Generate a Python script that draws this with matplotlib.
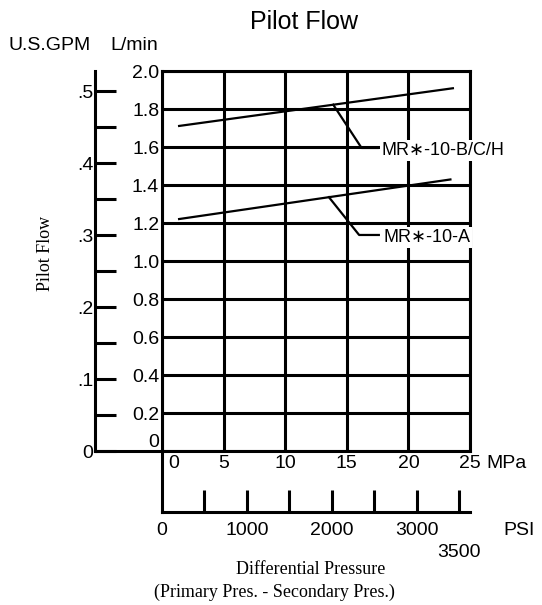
# Pilot Flow chart: flow vs differential pressure, with L/min + GPM and MPa + PSI scales
import numpy as np
import matplotlib.pyplot as plt

plt.rcParams['font.family'] = ['Liberation Sans', 'DejaVu Sans']

W, H = 542, 605
L_PER_GAL = 3.785
PSI_PER_MPA = 145.038

# axis scales
mpa_ticks = [0, 5, 10, 15, 20, 25]
mpa_labels = ['0', '5', '10', '15', '20', '25']
lpm_ticks = [0, 0.2, 0.4, 0.6, 0.8, 1.0, 1.2, 1.4, 1.6, 1.8, 2.0]
lpm_labels = ['0', '0.2', '0.4', '0.6', '0.8', '1.0', '1.2', '1.4', '1.6', '1.8', '2.0']
gpm_ticks = [0, 0.05, 0.1, 0.15, 0.2, 0.25, 0.3, 0.35, 0.4, 0.45, 0.5]
gpm_labels = ['0', '', '.1', '', '.2', '', '.3', '', '.4', '', '.5']
psi_ticks = [500, 1000, 1500, 2000, 2500, 3000, 3500]
psi_label_vals = [0, 1000, 2000, 3000, 3500]
psi_labels = ['0', '1000', '2000', '3000', '3500']

# series (MPa, L/min)
bch_name = 'MR\u2217-10-B/C/H'
bch_mpa = [1.3, 23.7]
bch_flow = [1.71, 1.91]
a_name = 'MR\u2217-10-A'
a_mpa = [1.3, 23.5]
a_flow = [1.22, 1.43]


def fx(px):
    return px / W


def fy(py):
    return 1 - py / H


fig = plt.figure(figsize=(W / 100, H / 100), dpi=100)

# main grid
ax = fig.add_axes([fx(162), fy(451), fx(470 - 162), (451 - 71) / H])
ax.set_xlim(0, 25)
ax.set_ylim(0, 2.0)
ax.set_xticks(mpa_ticks)
ax.set_xticklabels([])
ax.set_yticks(lpm_ticks)
ax.set_yticklabels(lpm_labels, fontsize=14)
ax.tick_params(length=0, pad=2)
ax.get_yticklabels()[0].set_va('bottom')
ax.grid(True, color='black', linewidth=2.2)
for s in ax.spines.values():
    s.set_linewidth(2.2)
ax.set_axisbelow(True)

ax.plot(bch_mpa, bch_flow, color='black', linewidth=1.6, solid_capstyle='butt')
ax.plot(a_mpa, a_flow, color='black', linewidth=1.6, solid_capstyle='butt')

# leader lines + labels
for xs, ys, x0, ex, ey, tx, name in [
    (bch_mpa, bch_flow, 13.9, 16.2, 1.595, 17.5, bch_name),
    (a_mpa, a_flow, 13.55, 16.0, 1.137, 17.6, a_name),
]:
    y0 = np.interp(x0, xs, ys)
    ax.plot([x0, ex, tx], [y0, ey, ey], color='black', linewidth=1.6)
    ax.text(tx + 0.35, ey - 0.015, name, fontsize=13, ha='left', va='center',
            bbox=dict(facecolor='white', edgecolor='none', pad=1.5))

# MPa labels
for v, lab in zip(mpa_ticks, mpa_labels):
    dx = 8.6 if v == 0 else 0
    ax.annotate(lab, xy=(v, 0), xycoords=('data', 'axes fraction'),
                xytext=(dx, -9), textcoords='offset points',
                ha='center', va='center', fontsize=14)
ax.annotate('MPa', xy=(25, 0), xycoords=('data', 'axes fraction'),
            xytext=(12, -9), textcoords='offset points',
            ha='left', va='center', fontsize=14)

# GPM scale
gx = fig.add_axes([fx(95), fy(451), fx(162 - 95), (451 - 71) / H])
gx.patch.set_visible(False)
gx.set_ylim(0, 2.0 / L_PER_GAL)
gx.set_xticks([])
gx.set_yticks(gpm_ticks)
gx.set_yticklabels(gpm_labels, fontsize=14)
gx.tick_params(axis='y', direction='in', length=15, width=2.2, pad=1)
gx.spines['top'].set_visible(False)
gx.spines['right'].set_visible(False)
gx.spines['left'].set_linewidth(2.2)
gx.spines['bottom'].set_linewidth(2.2)

# PSI scale
px = fig.add_axes([fx(162), fy(512), fx(470 - 162), (512 - 451) / H])
px.patch.set_visible(False)
px.set_xlim(0, 25 * PSI_PER_MPA)
px.set_yticks([])
px.set_xticks(psi_ticks)
px.set_xticklabels([])
px.tick_params(axis='x', direction='in', length=16, width=2.2)
px.spines['top'].set_visible(False)
px.spines['right'].set_visible(False)
px.spines['left'].set_linewidth(2.2)
px.spines['bottom'].set_linewidth(2.2)
for v, lab in zip(psi_label_vals, psi_labels):
    dy = -29 if v == 3500 else -13
    px.annotate(lab, xy=(v, 0), xycoords=('data', 'axes fraction'),
                xytext=(0, dy), textcoords='offset points',
                ha='center', va='center', fontsize=14)
px.annotate('PSI', xy=(1, 0), xycoords='axes fraction',
            xytext=(24, -13), textcoords='offset points',
            ha='left', va='center', fontsize=14)

# titles and axis names
fig.text(fx(304), fy(22), 'Pilot Flow', fontsize=18, ha='center', va='center')
fig.text(fx(8), fy(46), 'U.S.GPM', fontsize=14, ha='left', va='center')
fig.text(fx(110), fy(46), 'L/min', fontsize=14, ha='left', va='center')
fig.text(fx(46), fy(253), 'Pilot Flow', fontsize=13, rotation=90,
         ha='center', va='center', family='Liberation Serif')
fig.text(fx(311), fy(570), 'Differential Pressure', fontsize=13,
         ha='center', va='center', family='Liberation Serif')
fig.text(fx(274), fy(592), '(Primary Pres. - Secondary Pres.)', fontsize=13,
         ha='center', va='center', family='Liberation Serif')

fig.savefig('out.png', dpi=100)
